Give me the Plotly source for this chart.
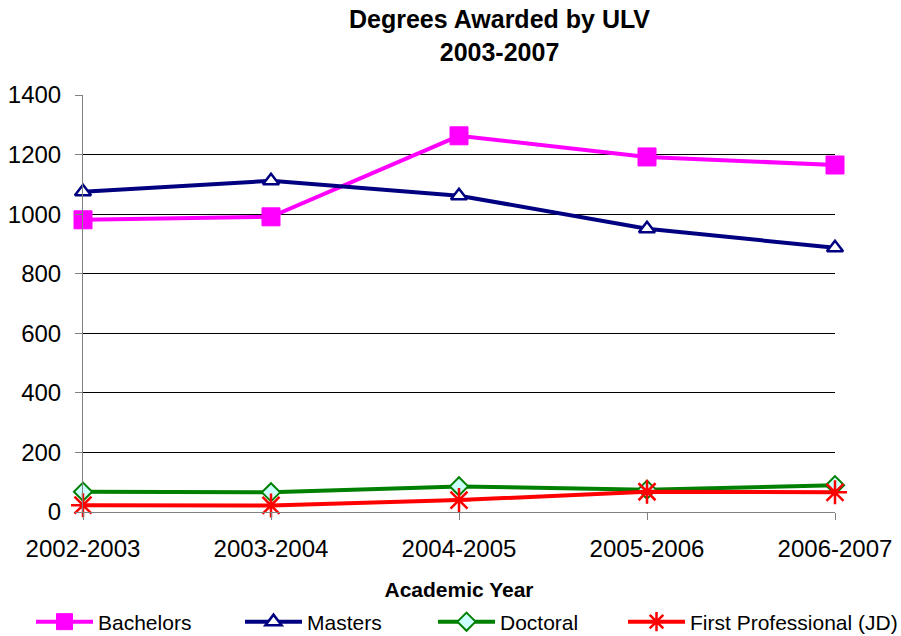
import plotly.graph_objects as go

years = ["2002-2003", "2003-2004", "2004-2005", "2005-2006", "2006-2007"]
bachelors = [981, 991, 1263, 1192, 1165]
masters = [1075, 1112, 1062, 951, 887]
doctoral = [68, 66, 86, 75, 90]
first_prof = [23, 22, 40, 68, 66]
y_ticks = [0, 200, 400, 600, 800, 1000, 1200, 1400]

FONT = "Liberation Sans, Arial, sans-serif"

series = [
    ("Bachelors", bachelors, "#FF00FF", dict(symbol="square", size=18, color="#FF00FF",
                                             line=dict(color="#FF00FF", width=1)), "legend"),
    ("Masters", masters, "#000080", dict(symbol="triangle-up", size=14, color="white",
                                         line=dict(color="#000080", width=2.5)), "legend2"),
    ("Doctoral", doctoral, "#008000", dict(symbol="diamond", size=14, color="#CCFFFF",
                                           line=dict(color="#008000", width=2)), "legend3"),
    ("First Professional (JD)", first_prof, "#FF0000", dict(symbol="asterisk-open", size=20,
                                                            color="#FF0000",
                                                            line=dict(color="#FF0000", width=2.5)), "legend4"),
]

fig = go.Figure()
for name, vals, col, mk, lg in series:
    fig.add_trace(go.Scatter(x=years, y=vals, name=name, mode="lines+markers",
                             line=dict(color=col, width=4), marker=mk,
                             cliponaxis=False, legend=lg, showlegend=True))

legend_x = [31, 240, 433, 623]
common_leg = dict(orientation="h", xref="container", yref="container", y=14 / 636,
                  yanchor="middle", xanchor="left", itemwidth=57,
                  font=dict(family=FONT, size=21, color="black"),
                  bgcolor="rgba(0,0,0,0)", visible=True)

fig.update_layout(
    width=901, height=636,
    showlegend=True,
    paper_bgcolor="white", plot_bgcolor="white",
    margin=dict(l=83, r=66, t=95, b=123.5, autoexpand=False),
    font=dict(family=FONT, color="black"),
    annotations=[dict(text="<b>Degrees Awarded by ULV<br>2003-2007</b>",
                      xref="paper", yref="paper",
                      x=(499 - 83) / 752, y=1 + (95 - 35) / 417.5,
                      xanchor="center", yanchor="middle", showarrow=False,
                      font=dict(family=FONT, size=25, color="black"))],
    xaxis=dict(type="category", range=[0, 4], showgrid=False, automargin=False,
               showline=True, linecolor="#808080", linewidth=1,
               ticks="outside", ticklen=7, tickcolor="#808080",
               ticklabelstandoff=8,
               tickfont=dict(family=FONT, size=24, color="black"),
               title=dict(text="<b>Academic Year</b>", standoff=22,
                          font=dict(family=FONT, size=21, color="black")),
               zeroline=False),
    yaxis=dict(range=[0, 1400], tickvals=y_ticks, showgrid=True, gridcolor="black",
               gridwidth=1, showline=True, linecolor="#808080", linewidth=1,
               ticks="outside", ticklen=7, tickcolor="#808080", automargin=False,
               ticklabelstandoff=9,
               tickfont=dict(family=FONT, size=24, color="black"),
               zeroline=False),
    legend=dict(x=legend_x[0] / 901, **common_leg),
    legend2=dict(x=legend_x[1] / 901, **common_leg),
    legend3=dict(x=legend_x[2] / 901, **common_leg),
    legend4=dict(x=legend_x[3] / 901, **common_leg),
)

fig.write_html("out.html", config={"displayModeBar": False},
               post_script="document.body.style.margin='0px';")
